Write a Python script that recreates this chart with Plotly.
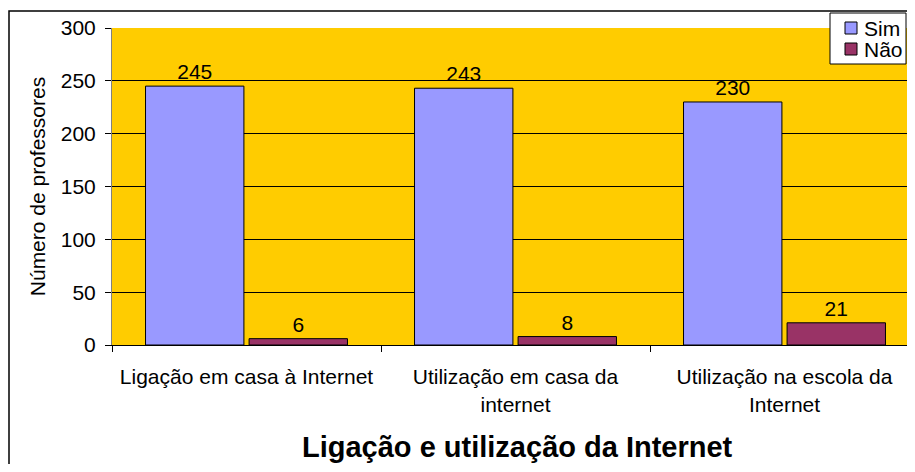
import plotly.graph_objects as go

categories = ["Ligação em casa à Internet", "Utilização em casa da<br>internet", "Utilização na escola da<br>Internet"]
sim = [245, 243, 230]
nao = [6, 8, 21]
y_ticks = [0, 50, 100, 150, 200, 250, 300]
series_names = ["Sim", "Não"]
series_colors = ["#9999FF", "#993366"]

FONT = "Liberation Sans, Arial, sans-serif"
OFF = 8  # browser body margin
W, H = 915 - 2 * OFF, 472 - 2 * OFF
L, T = 112 - OFF, 28 - OFF
R = 0
B = H - (345 - OFF)
pw, ph = W - L - R, H - T - B

fig = go.Figure()
for name, vals, col in zip(series_names, [sim, nao], series_colors):
    fig.add_trace(go.Bar(name=name, x=categories, y=vals, text=vals, textposition="outside",
                         marker=dict(color=col, line=dict(color="black", width=1)),
                         textfont=dict(size=21, color="black", family=FONT), cliponaxis=False,
                         showlegend=False))

def px_x(x):
    return (x - OFF - L) / pw

def px_y(y):
    return 1 - (y - OFF - T) / ph

# outer chart border
fig.add_shape(type="rect", xref="paper", yref="paper",
              x0=px_x(9), x1=px_x(930), y0=px_y(490), y1=px_y(11),
              line=dict(color="black", width=1.5), layer="below")

# legend box (drawn manually for compact spacing)
fig.add_shape(type="rect", xref="paper", yref="paper",
              x0=px_x(830), x1=px_x(906), y0=px_y(64), y1=px_y(13),
              line=dict(color="black", width=1), fillcolor="white", layer="above")
for i, (name, col) in enumerate(zip(series_names, series_colors)):
    cy = 28 + 21 * i
    fig.add_shape(type="rect", xref="paper", yref="paper",
                  x0=px_x(845), x1=px_x(857), y0=px_y(cy + 6), y1=px_y(cy - 6),
                  line=dict(color="black", width=1), fillcolor=col, layer="above")
    fig.add_annotation(text=name, xref="paper", yref="paper", x=px_x(862), y=px_y(cy),
                       xanchor="left", yanchor="middle", showarrow=False,
                       font=dict(size=21, family=FONT, color="black"))

fig.add_annotation(text="<b>Ligação e utilização da Internet</b>", xref="paper", yref="paper",
                   x=px_x(517), y=px_y(447), showarrow=False, xanchor="center", yanchor="middle",
                   font=dict(size=29, family=FONT, color="black"))

span = pw / 269.0

fig.update_layout(
    width=W, height=H,
    margin=dict(l=L, r=R, t=T, b=B, pad=0),
    paper_bgcolor="white", plot_bgcolor="#FFCC00",
    font=dict(family=FONT, size=21, color="black"),
    barmode="group", bargap=0.23, bargroupgap=0.05,
    showlegend=False,
    xaxis=dict(range=[-0.5, -0.5 + span], showgrid=False, showline=True, linecolor="black",
               ticks="outside", ticklen=6, tickcolor="black", tickson="boundaries",
               tickfont=dict(size=21, family=FONT), ticklabelstandoff=13),
    yaxis=dict(range=[0, 300], tickvals=y_ticks, showgrid=True, gridcolor="black", gridwidth=1,
               showline=True, linecolor="#808080", ticks="outside", ticklen=6, tickcolor="black",
               tickfont=dict(size=21, family=FONT), zeroline=False, ticklabelstandoff=5,
               title=dict(text="Número de professores", font=dict(size=21, family=FONT), standoff=9)),
)

fig.write_html("out.html")
